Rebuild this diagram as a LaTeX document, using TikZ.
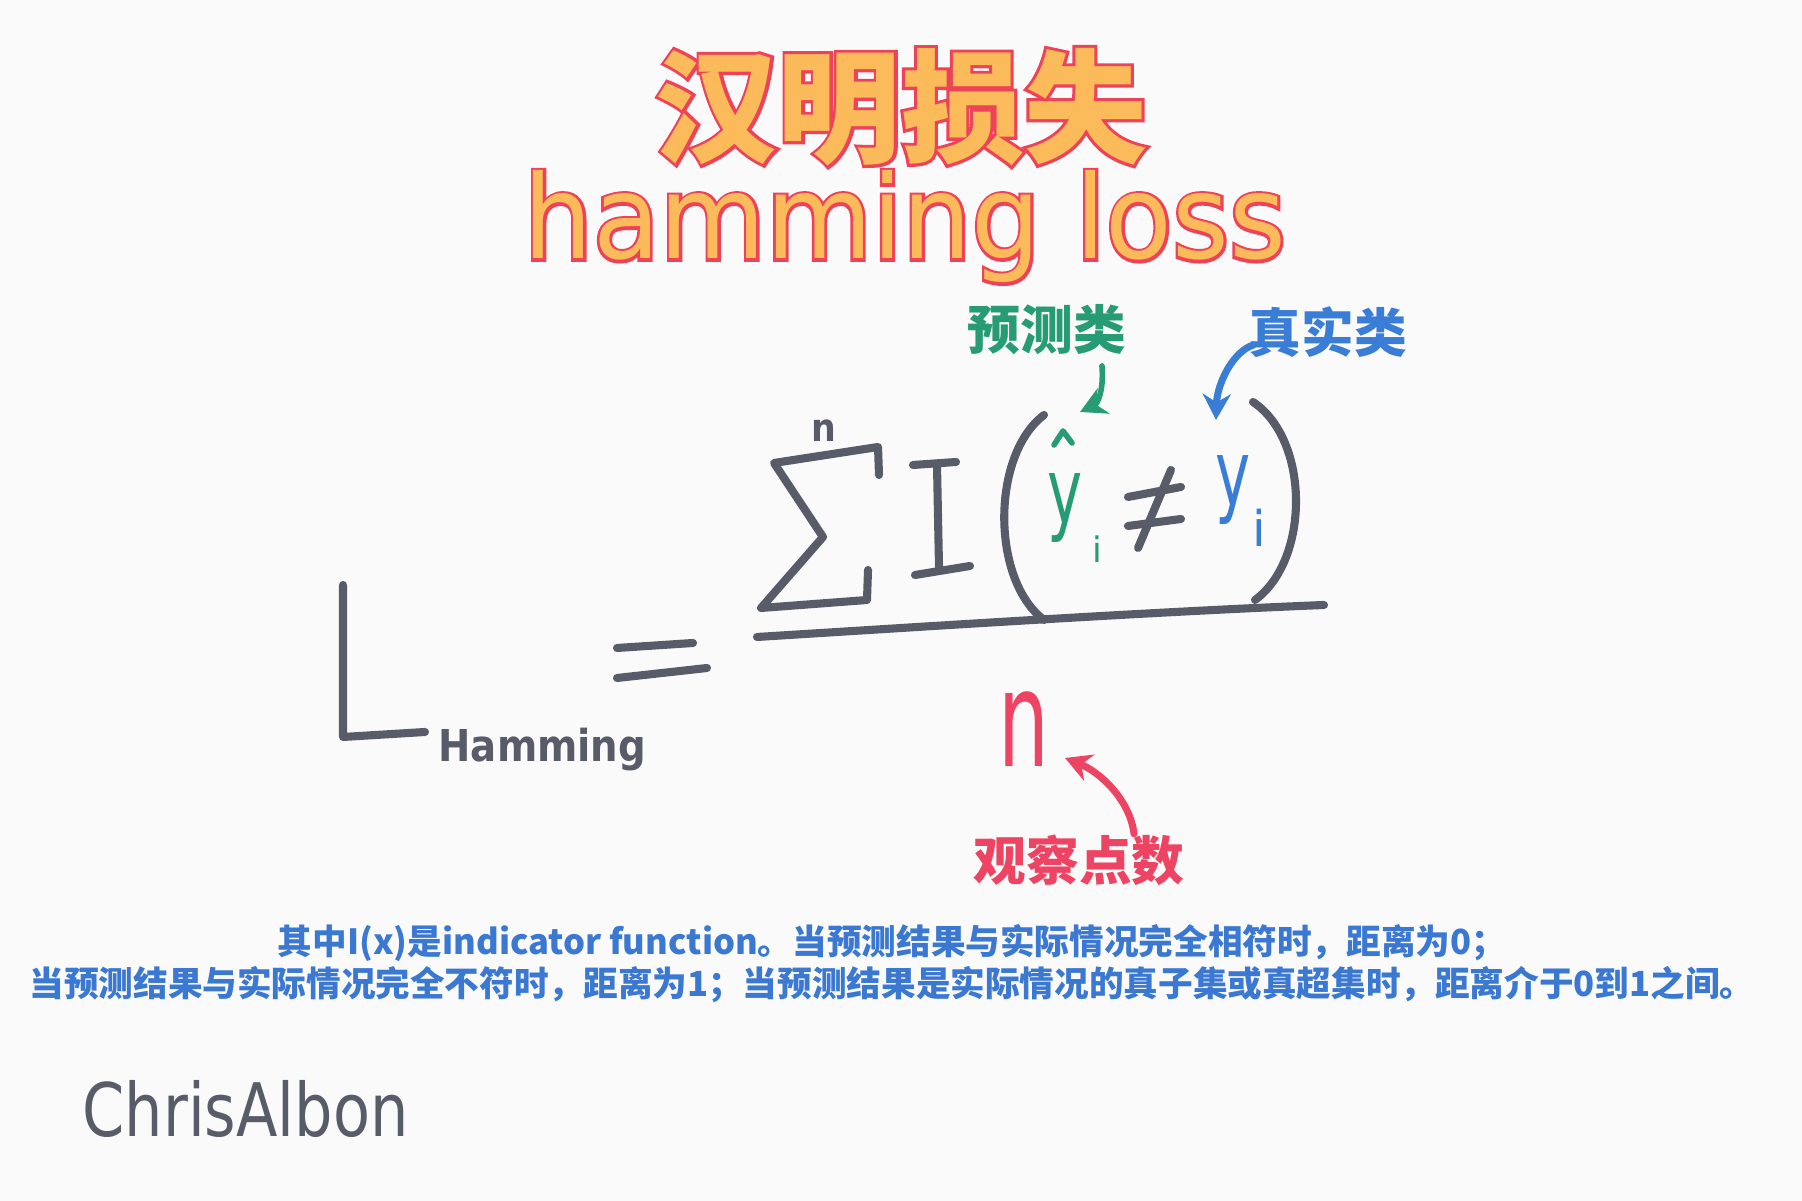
\documentclass[tikz,border=0pt]{standalone}
\usepackage{fontspec}
\usepackage{tikz}
\usetikzlibrary{arrows.meta,positioning}
\setmainfont{DejaVu Sans}
\newfontfamily\cjk{Noto Sans CJK SC}
\newfontfamily\cjkout[BoldFeatures={FakeBold=5}]{Noto Sans CJK SC}
\newfontfamily\latout[FakeBold=5]{DejaVu Sans}
\definecolor{paper}{HTML}{FAFAFB}
\definecolor{ink}{HTML}{585C69}
\definecolor{titlefill}{HTML}{FBBB5B}
\definecolor{titleline}{HTML}{EE4259}
\definecolor{predgreen}{HTML}{279B73}
\definecolor{trueblue}{HTML}{3A7DD6}
\definecolor{obsred}{HTML}{EE4464}
\definecolor{noteblue}{HTML}{3A78D2}

\begin{document}
\begin{tikzpicture}[x=0.1mm,y=-0.1mm,
  pen/.style={draw=ink,line width=2.3pt,line cap=round,line join=round},
  titlecn/.style={font=\cjk\bfseries\fontsize{35}{35}\selectfont,text=titlefill,inner sep=0pt},
  titlecnline/.style={font=\cjkout\bfseries\fontsize{35}{35}\selectfont,text=titleline,inner sep=0pt},
  titleen/.style={font=\fontsize{33}{33}\selectfont,text=titlefill,anchor=base,xscale=0.94,inner sep=0pt},
  titleenline/.style={font=\latout\fontsize{33}{33}\selectfont,text=titleline,anchor=base,xscale=0.94,inner sep=0pt},
  tag/.style={font=\cjk\bfseries\fontsize{15}{15}\selectfont,inner sep=0pt},
  sym/.style={anchor=base,inner sep=0pt},
  arrow/.style={-{Stealth[length=2.6mm,width=2.8mm]},line width=1.6pt,line cap=round}
]
\fill[paper] (0,0) rectangle (1802,1201);

% title
\node[titlecnline] (hanmingback) at (901,107) {汉明损失};
\node[titlecn] (hanming) at (hanmingback) {汉明损失};
\node[titleenline] (hammingback) at (905,259) {hamming loss};
\node[titleen] (hamming) at (905,259) {hamming loss};

% labels
\node[tag,text=predgreen] (predlabel) at (1047,330) {预测类};
\node[tag,text=trueblue] (truelabel) at (1328,332) {真实类};
\node[tag,text=obsred] (obslabel) at (1079,860) {观察点数};

% left side
\draw[pen] (343,585) -- (343,737) -- (425,732);
\node[sym,anchor=base west,text=ink,font=\bfseries\fontsize{12.5}{12.5}\selectfont,xscale=0.88] (hamsub) at (438,762) {Hamming};
\draw[pen] (617,648) -- (693,643);
\draw[pen] (617,678) -- (707,668);

% numerator
\draw[pen] (879,475) -- (878,447) -- (774,463) -- (823,537) -- (761,608) -- (867,600) -- (868,570);
\node[sym,text=ink,font=\bfseries\fontsize{11}{11}\selectfont,xscale=0.9] (nup) at (824,442) {n};
\draw[pen] (913,465) -- (956,462);
\draw[pen] (937,465) -- (939,567);
\draw[pen] (915,575) -- (970,566);
\draw[pen] (1044,415) .. controls (991,455) and (991,580) .. (1044,620);
\draw[pen] (1253,402) .. controls (1310,440) and (1310,560) .. (1255,600);
\node[sym,text=predgreen,font=\fontsize{26}{26}\selectfont,xscale=0.65] (yhat) at (1065,524) {y};
\draw[predgreen,line width=1.6pt,line cap=round,line join=round] (1054,445) -- (1063,431) -- (1072,443);
\node[sym,text=predgreen,font=\fontsize{10}{10}\selectfont] (yhati) at (1097,563) {i};
\draw[pen] (1128,497) -- (1181,487);
\draw[pen] (1128,526) -- (1181,519);
\draw[pen] (1171,470) -- (1138,548);
\node[sym,text=trueblue,font=\fontsize{26}{26}\selectfont,xscale=0.65] (ytrue) at (1233,506) {y};
\node[sym,text=trueblue,font=\fontsize{14}{14}\selectfont] (ytruei) at (1259,547) {i};

% fraction line and denominator
\draw[pen] (757,637) .. controls (950,625) and (1150,612) .. (1324,605);
\node[sym,text=obsred,font=\fontsize{38}{38}\selectfont,xscale=0.6] (nbot) at (1024,767) {n};

% pointers
\coordinate (predtip) at (1080,412);
\coordinate (truetip) at (1216,420);
\coordinate (obstip) at (1065,758);
\draw[arrow,predgreen] ([xshift=5.5mm,yshift=-1mm]predlabel.south) .. controls (1104,392) and (1097,404) .. (predtip);
\draw[arrow,trueblue,line width=2pt] ([xshift=0.5mm,yshift=-1.3mm]truelabel.west) .. controls (1232,352) and (1217,385) .. (truetip);
\draw[arrow,obsred,line width=2pt] ([xshift=5.5mm]obslabel.north) .. controls (1130,800) and (1100,772) .. (obstip);

% note
\node[font=\cjk\bfseries\fontsize{9.85}{12}\selectfont,text=noteblue,align=center] (note) at (892,964) {其中I(x)是indicator function。当预测结果与实际情况完全相符时，距离为0；\\当预测结果与实际情况完全不符时，距离为1；当预测结果是实际情况的真子集或真超集时，距离介于0到1之间。};

\node[sym,anchor=base west,text=ink,font=\fontsize{21}{21}\selectfont,xscale=0.82] (signature) at (82,1137) {ChrisAlbon};
\end{tikzpicture}
\end{document}
